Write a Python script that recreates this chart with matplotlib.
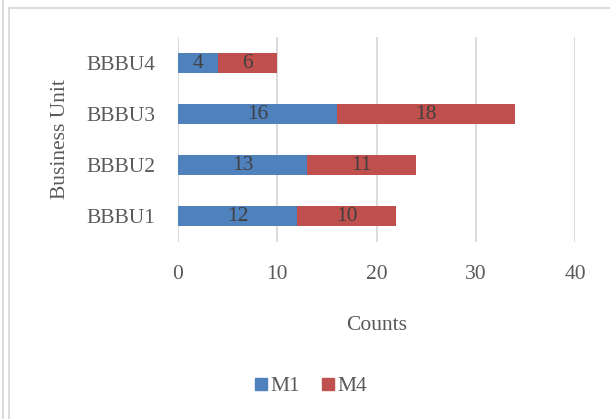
import matplotlib.pyplot as plt
from matplotlib.lines import Line2D

units = ["BBBU1", "BBBU2", "BBBU3", "BBBU4"]
m1 = [12, 13, 16, 4]
m4 = [10, 11, 18, 6]
x_ticks = [0, 10, 20, 30, 40]

blue = "#4F81BD"
red = "#C0504D"
text_gray = "#595959"

plt.rcParams["font.family"] = ["Liberation Serif", "DejaVu Serif"]
plt.rcParams["font.size"] = 15.5

fig = plt.figure(figsize=(6.10, 4.19), dpi=100)
ax = fig.add_axes([178 / 610, 1 - 241.5 / 419, (575 - 178) / 610, (241.5 - 37.5) / 419])

ypos = range(len(units))
bars1 = ax.barh(ypos, m1, height=0.4, color=blue, label="M1")
bars4 = ax.barh(ypos, m4, left=m1, height=0.4, color=red, label="M4")
ax.bar_label(bars1, labels=[str(v) for v in m1], label_type="center", color="#404040")
ax.bar_label(bars4, labels=[str(v) for v in m4], label_type="center", color="#404040")

ax.set_xlim(0, 40)
ax.set_ylim(-0.5, len(units) - 0.5)
ax.set_xticks(x_ticks)
ax.set_yticks(list(ypos))
ax.set_yticklabels(units)
ax.tick_params(length=0, colors=text_gray)
ax.tick_params(axis="y", pad=16)
ax.tick_params(axis="x", pad=17)
ax.xaxis.grid(True, color="#D9D9D9", linewidth=1.3)
ax.set_axisbelow(True)
for side in ax.spines.values():
    side.set_visible(False)

ax.set_xlabel("Counts", color=text_gray, labelpad=23)
ax.set_ylabel("Business Unit", color=text_gray, labelpad=12)

handles = [Line2D([], [], marker="s", linestyle="", markersize=8, color=c) for c in (blue, red)]
fig.legend(handles, ["M1", "M4"], loc="center", bbox_to_anchor=(311 / 610, 1 - 386 / 419),
           ncol=2, frameon=False, handlelength=0.6, handletextpad=0.15, columnspacing=1.0,
           labelcolor=text_gray)

# thin frame lines around the chart area
fig.add_artist(Line2D([2.5 / 610, 2.5 / 610], [0, 1], color="#D9D9D9", linewidth=1.3))
fig.add_artist(Line2D([8.5 / 610, 8.5 / 610], [0, 1 - 8 / 419], color="#D9D9D9", linewidth=1.3))
fig.add_artist(Line2D([8.5 / 610, 1], [1 - 8 / 419, 1 - 8 / 419], color="#D9D9D9", linewidth=1.3))

fig.savefig("out.png", dpi=100)
